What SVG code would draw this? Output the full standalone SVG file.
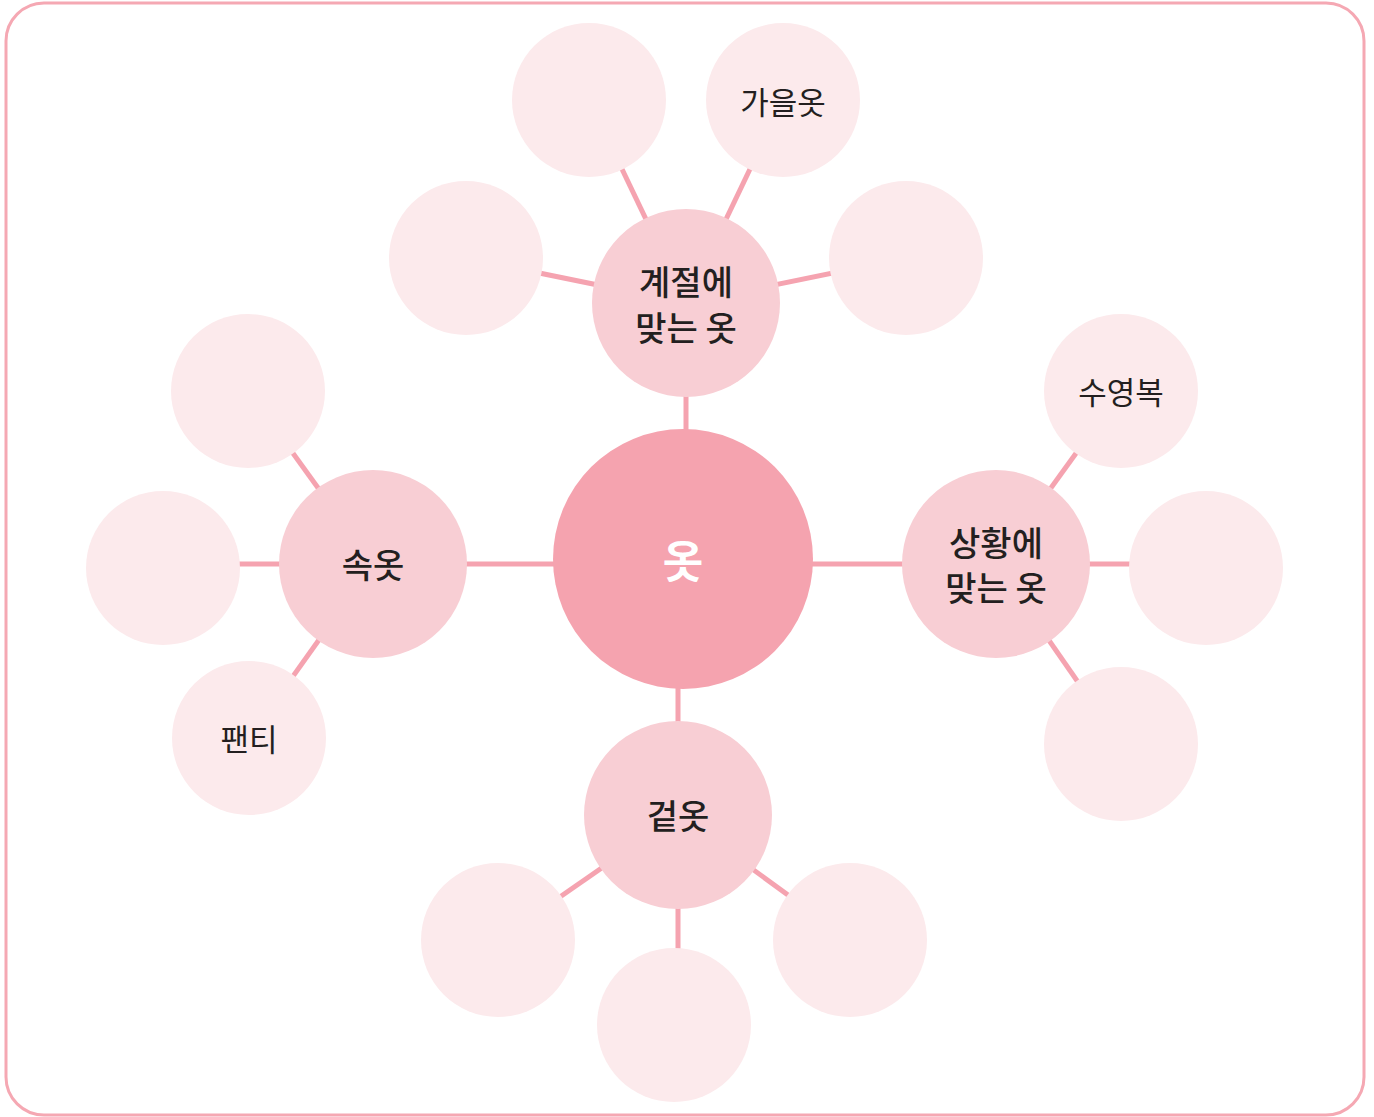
<svg xmlns="http://www.w3.org/2000/svg" width="1374" height="1117" viewBox="0 0 1374 1117">
<style>
.frame{fill:#fff;stroke:#F5A8B3;stroke-width:3}
.conn line{stroke:#F5A3B0;stroke-width:5}
.main{fill:#F5A3AF}
.mid{fill:#F8CED4}
.leaf{fill:#FCEAEC}
text{font-family:"Noto Sans CJK KR","Noto Sans",sans-serif;text-anchor:middle;dominant-baseline:central}
.tm{font-size:44px;font-weight:700;fill:#fff}
.t2{font-size:34px;font-weight:500;fill:#231F20}
.t3{font-size:31px;font-weight:400;fill:#231F20}
</style>
<rect class="frame" x="6" y="3" width="1358" height="1112" rx="38" ry="38"/>
<g id="connectors" class="conn">
<line x1="686" y1="303" x2="686" y2="440"/>
<line x1="678" y1="680" x2="678" y2="815"/>
<line x1="373" y1="564" x2="560" y2="564"/>
<line x1="805" y1="564" x2="996" y2="564"/>
<line x1="686" y1="303" x2="589" y2="100"/>
<line x1="686" y1="303" x2="783" y2="100"/>
<line x1="686" y1="303" x2="466" y2="258"/>
<line x1="686" y1="303" x2="906" y2="258"/>
<line x1="373" y1="564" x2="248" y2="391"/>
<line x1="373" y1="564" x2="163" y2="564"/>
<line x1="373" y1="564" x2="249" y2="738"/>
<line x1="996" y1="564" x2="1121" y2="391"/>
<line x1="996" y1="564" x2="1206" y2="564"/>
<line x1="996" y1="564" x2="1121" y2="744"/>
<line x1="678" y1="815" x2="498" y2="940"/>
<line x1="678" y1="815" x2="678" y2="1000"/>
<line x1="678" y1="815" x2="850" y2="940"/>
</g>
<g id="n-main"><circle class="main" cx="683" cy="559" r="130"/><text class="tm" x="683" y="559">옷</text></g>
<g id="n-season"><circle class="mid" cx="686" cy="303" r="94"/><text class="t2" x="686" y="280">계절에</text><text class="t2" x="686" y="326">맞는 옷</text></g>
<g id="n-under"><circle class="mid" cx="373" cy="564" r="94"/><text class="t2" x="373" y="563">속옷</text></g>
<g id="n-situation"><circle class="mid" cx="996" cy="564" r="94"/><text class="t2" x="996" y="541">상황에</text><text class="t2" x="996" y="586">맞는 옷</text></g>
<g id="n-outer"><circle class="mid" cx="678" cy="815" r="94"/><text class="t2" x="678" y="814">겉옷</text></g>
<g id="s1"><circle class="leaf" cx="589" cy="100" r="77"/></g>
<g id="s2"><circle class="leaf" cx="783" cy="100" r="77"/><text class="t3" x="783" y="100">가을옷</text></g>
<g id="s3"><circle class="leaf" cx="466" cy="258" r="77"/></g>
<g id="s4"><circle class="leaf" cx="906" cy="258" r="77"/></g>
<g id="u1"><circle class="leaf" cx="248" cy="391" r="77"/></g>
<g id="u2"><circle class="leaf" cx="163" cy="568" r="77"/></g>
<g id="u3"><circle class="leaf" cx="249" cy="738" r="77"/><text class="t3" x="249" y="737">팬티</text></g>
<g id="c1"><circle class="leaf" cx="1121" cy="391" r="77"/><text class="t3" x="1121" y="390">수영복</text></g>
<g id="c2"><circle class="leaf" cx="1206" cy="568" r="77"/></g>
<g id="c3"><circle class="leaf" cx="1121" cy="744" r="77"/></g>
<g id="o1"><circle class="leaf" cx="498" cy="940" r="77"/></g>
<g id="o2"><circle class="leaf" cx="674" cy="1025" r="77"/></g>
<g id="o3"><circle class="leaf" cx="850" cy="940" r="77"/></g>
</svg>
